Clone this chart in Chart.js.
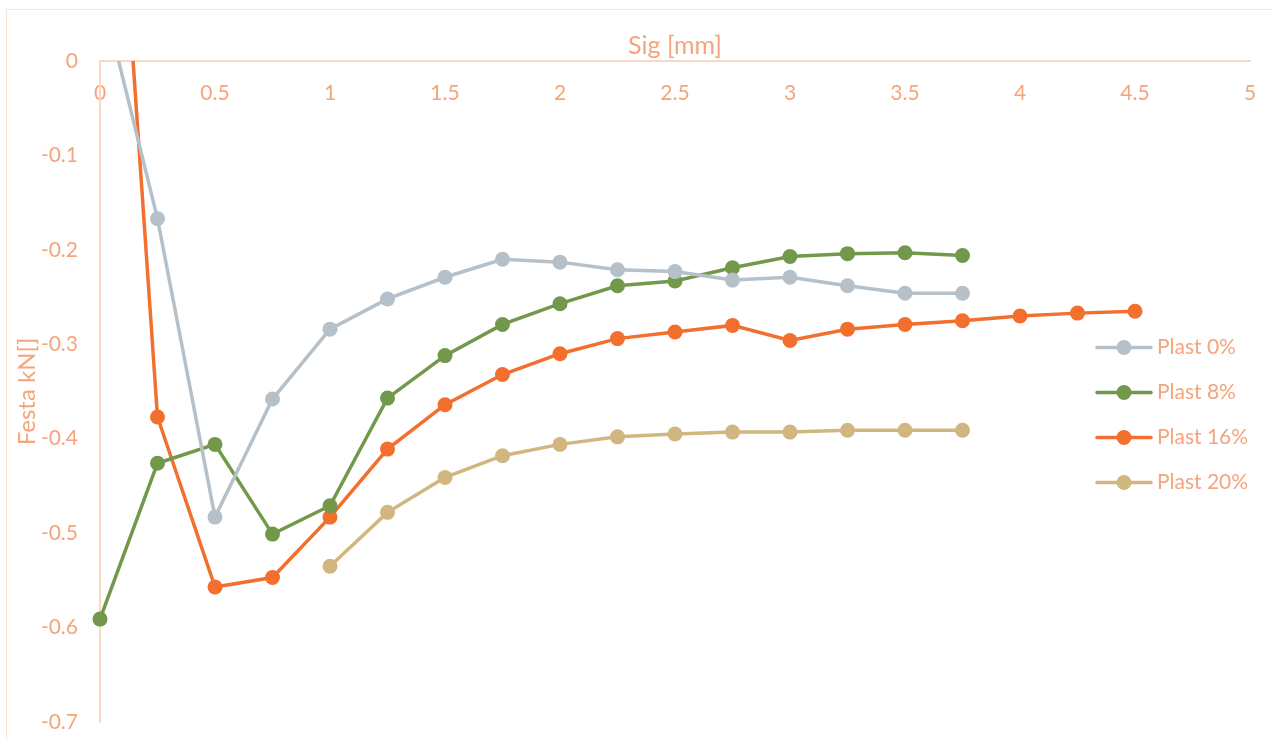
<!DOCTYPE html>
<html>
<head>
<meta charset="utf-8">
<title>Festa vs Sig</title>
<script src="https://cdn.jsdelivr.net/npm/chart.js@4.4.1/dist/chart.umd.min.js"></script>
<style>
  html, body { margin: 0; padding: 0; background: #ffffff; }
  #wrap { position: relative; width: 1273px; height: 740px; overflow: hidden; }
  #frame { position: absolute; left: 6px; top: 9px; width: 1300px; height: 800px;
           border: 1px solid #FCE3D6; pointer-events: none; }
  canvas { display: block; }
</style>
</head>
<body>
<div id="wrap">
  <canvas id="chart" width="1273" height="740"></canvas>
  <div id="frame"></div>
</div>
<script>
// Displacement steps [mm]
const sigMm = [0, 0.25, 0.5, 0.75, 1, 1.25, 1.5, 1.75, 2, 2.25, 2.5, 2.75, 3, 3.25, 3.5, 3.75, 4, 4.25, 4.5];

// Measured force [kN] per plasticizer content
const plast0  = [0.08, -0.167, -0.483, -0.358, -0.284, -0.252, -0.229, -0.210, -0.213, -0.221, -0.223, -0.232, -0.229, -0.238, -0.246, -0.246];
const plast8  = [-0.591, -0.426, -0.406, -0.501, -0.471, -0.357, -0.312, -0.279, -0.257, -0.238, -0.233, -0.219, -0.207, -0.204, -0.203, -0.206];
const plast16 = [0.51, -0.377, -0.557, -0.547, -0.483, -0.411, -0.364, -0.332, -0.310, -0.294, -0.287, -0.280, -0.296, -0.284, -0.279, -0.275, -0.270, -0.267, -0.265];
const plast20 = [null, null, null, null, -0.535, -0.478, -0.441, -0.418, -0.406, -0.398, -0.395, -0.393, -0.393, -0.391, -0.391, -0.391];

const seriesNames  = ['Plast 0%', 'Plast 8%', 'Plast 16%', 'Plast 20%'];
const seriesColors = ['#B6C0C8', '#72994B', '#F26F2E', '#D2B680'];

const xTickLabels = ['0', '0.5', '1', '1.5', '2', '2.5', '3', '3.5', '4', '4.5', '5'];
const yTickLabels = ['0', '-0.1', '-0.2', '-0.3', '-0.4', '-0.5', '-0.6', '-0.7'];

const textColor = '#F5A47B';
const axisColor = '#FBD8C6';
const fontFamily = 'Lato, "Open Sans", sans-serif';

function toPoints(values) {
  const pts = [];
  values.forEach((v, i) => { if (v !== null) pts.push({ x: sigMm[i], y: v }); });
  return pts;
}

const allSeries = [plast0, plast8, plast16, plast20];
const datasets = allSeries.map((vals, i) => ({
  label: seriesNames[i],
  data: toPoints(vals),
  borderColor: seriesColors[i],
  backgroundColor: seriesColors[i],
  pointBackgroundColor: seriesColors[i],
  pointBorderColor: seriesColors[i],
  pointBorderWidth: 0,
  pointRadius: 7.5,
  borderWidth: 3.5,
  tension: 0,
  clip: { left: 12, top: 0, right: 12, bottom: 12 }
}));

// Legend drawn inside the plot, on the right: line + dot sample, then the name
const insideLegend = {
  id: 'insideLegend',
  afterDraw(chart) {
    const ctx = chart.ctx;
    const x0 = 1097, x1 = 1151, xt = 1157, yStart = 347.5, step = 45;
    ctx.save();
    chart.data.datasets.forEach((ds, i) => {
      const y = yStart + i * step;
      ctx.strokeStyle = ds.borderColor;
      ctx.lineWidth = 3.5;
      ctx.lineCap = 'round';
      ctx.beginPath();
      ctx.moveTo(x0, y);
      ctx.lineTo(x1, y);
      ctx.stroke();
      ctx.fillStyle = ds.borderColor;
      ctx.beginPath();
      ctx.arc((x0 + x1) / 2, y, 7.5, 0, Math.PI * 2);
      ctx.fill();
      ctx.fillStyle = textColor;
      ctx.font = '21px ' + fontFamily;
      ctx.textAlign = 'left';
      ctx.textBaseline = 'middle';
      ctx.fillText(ds.label, xt, y);
    });
    ctx.restore();
  }
};

new Chart(document.getElementById('chart'), {
  type: 'line',
  data: { datasets },
  plugins: [insideLegend],
  options: {
    responsive: false,
    animation: false,
    layout: { padding: { left: 0, top: 0, right: 23, bottom: 18 } },
    plugins: {
      legend: { display: false },
      tooltip: { enabled: false }
    },
    scales: {
      x: {
        type: 'linear',
        position: 'top',
        min: 0,
        max: 5,
        afterFit: (scale) => {
          scale.height = 61;
          scale.paddingLeft = 0;
          scale.paddingRight = 0;
        },
        ticks: {
          stepSize: 0.5,
          mirror: true,
          padding: 20,
          color: textColor,
          font: { family: fontFamily, size: 21 },
          maxRotation: 0,
          callback: (v) => xTickLabels[Math.round(v * 2)]
        },
        grid: { display: true, drawOnChartArea: false, drawTicks: false, color: 'transparent' },
        border: { display: true, color: axisColor, width: 2 },
        title: {
          display: true,
          text: 'Sig [mm]',
          color: textColor,
          font: { family: fontFamily, size: 25 },
          padding: { top: 31, bottom: 0 }
        }
      },
      y: {
        type: 'linear',
        position: 'left',
        min: -0.7,
        max: 0,
        afterFit: (scale) => {
          scale.width = 100;
          scale.paddingTop = 0;
          scale.paddingBottom = 0;
        },
        ticks: {
          stepSize: 0.1,
          padding: 22,
          color: textColor,
          font: { family: fontFamily, size: 21 },
          callback: (v) => yTickLabels[Math.round(-v * 10)]
        },
        grid: { display: true, drawOnChartArea: false, drawTicks: false, color: 'transparent' },
        border: { display: true, color: axisColor, width: 2 },
        title: {
          display: true,
          text: 'Festa kN[]',
          color: textColor,
          font: { family: fontFamily, size: 24 },
          padding: { top: 12.5, bottom: 0 }
        }
      }
    }
  }
});
</script>
</body>
</html>
